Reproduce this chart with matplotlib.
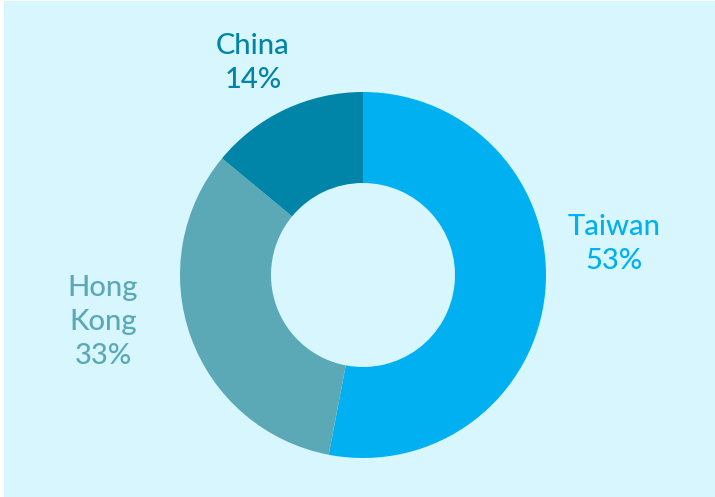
import matplotlib.pyplot as plt

categories = ["Taiwan", "Hong Kong", "China"]
shares = [53, 33, 14]
label_text = ["Taiwan", "Hong\nKong", "China"]

colors = ["#00b0f0", "#5ba9b6", "#0085a8"]
bg = "#d8f6fe"

W, H = 715, 497
fig = plt.figure(figsize=(W / 100, H / 100), dpi=100)
fig.patch.set_facecolor("white")
ax = fig.add_axes([0, 0, 1, 1])
ax.add_patch(plt.Rectangle((4, 0), W - 4, H - 1, facecolor=bg, edgecolor="none"))

ax.pie(shares, colors=colors, startangle=90, counterclock=False,
       center=(363, H - 275), radius=183, frame=True,
       wedgeprops=dict(width=91, edgecolor="none"))
ax.set_xlim(0, W)
ax.set_ylim(0, H)
ax.axis("off")
ax.set_aspect("equal")

# label positions (pixel, top-left origin)
label_pos = [(614, 244), (103, 322), (253, 63)]
for name, txt, val, (x, y), c in zip(categories, label_text, shares, label_pos, colors):
    ax.text(x, H - y, f"{txt}\n{val}%", ha="center", va="center",
            color=c, fontsize=21, family=["Lato", "DejaVu Sans"],
            fontweight="medium", linespacing=1.38)

fig.savefig("out.png", dpi=100, facecolor=fig.get_facecolor())
